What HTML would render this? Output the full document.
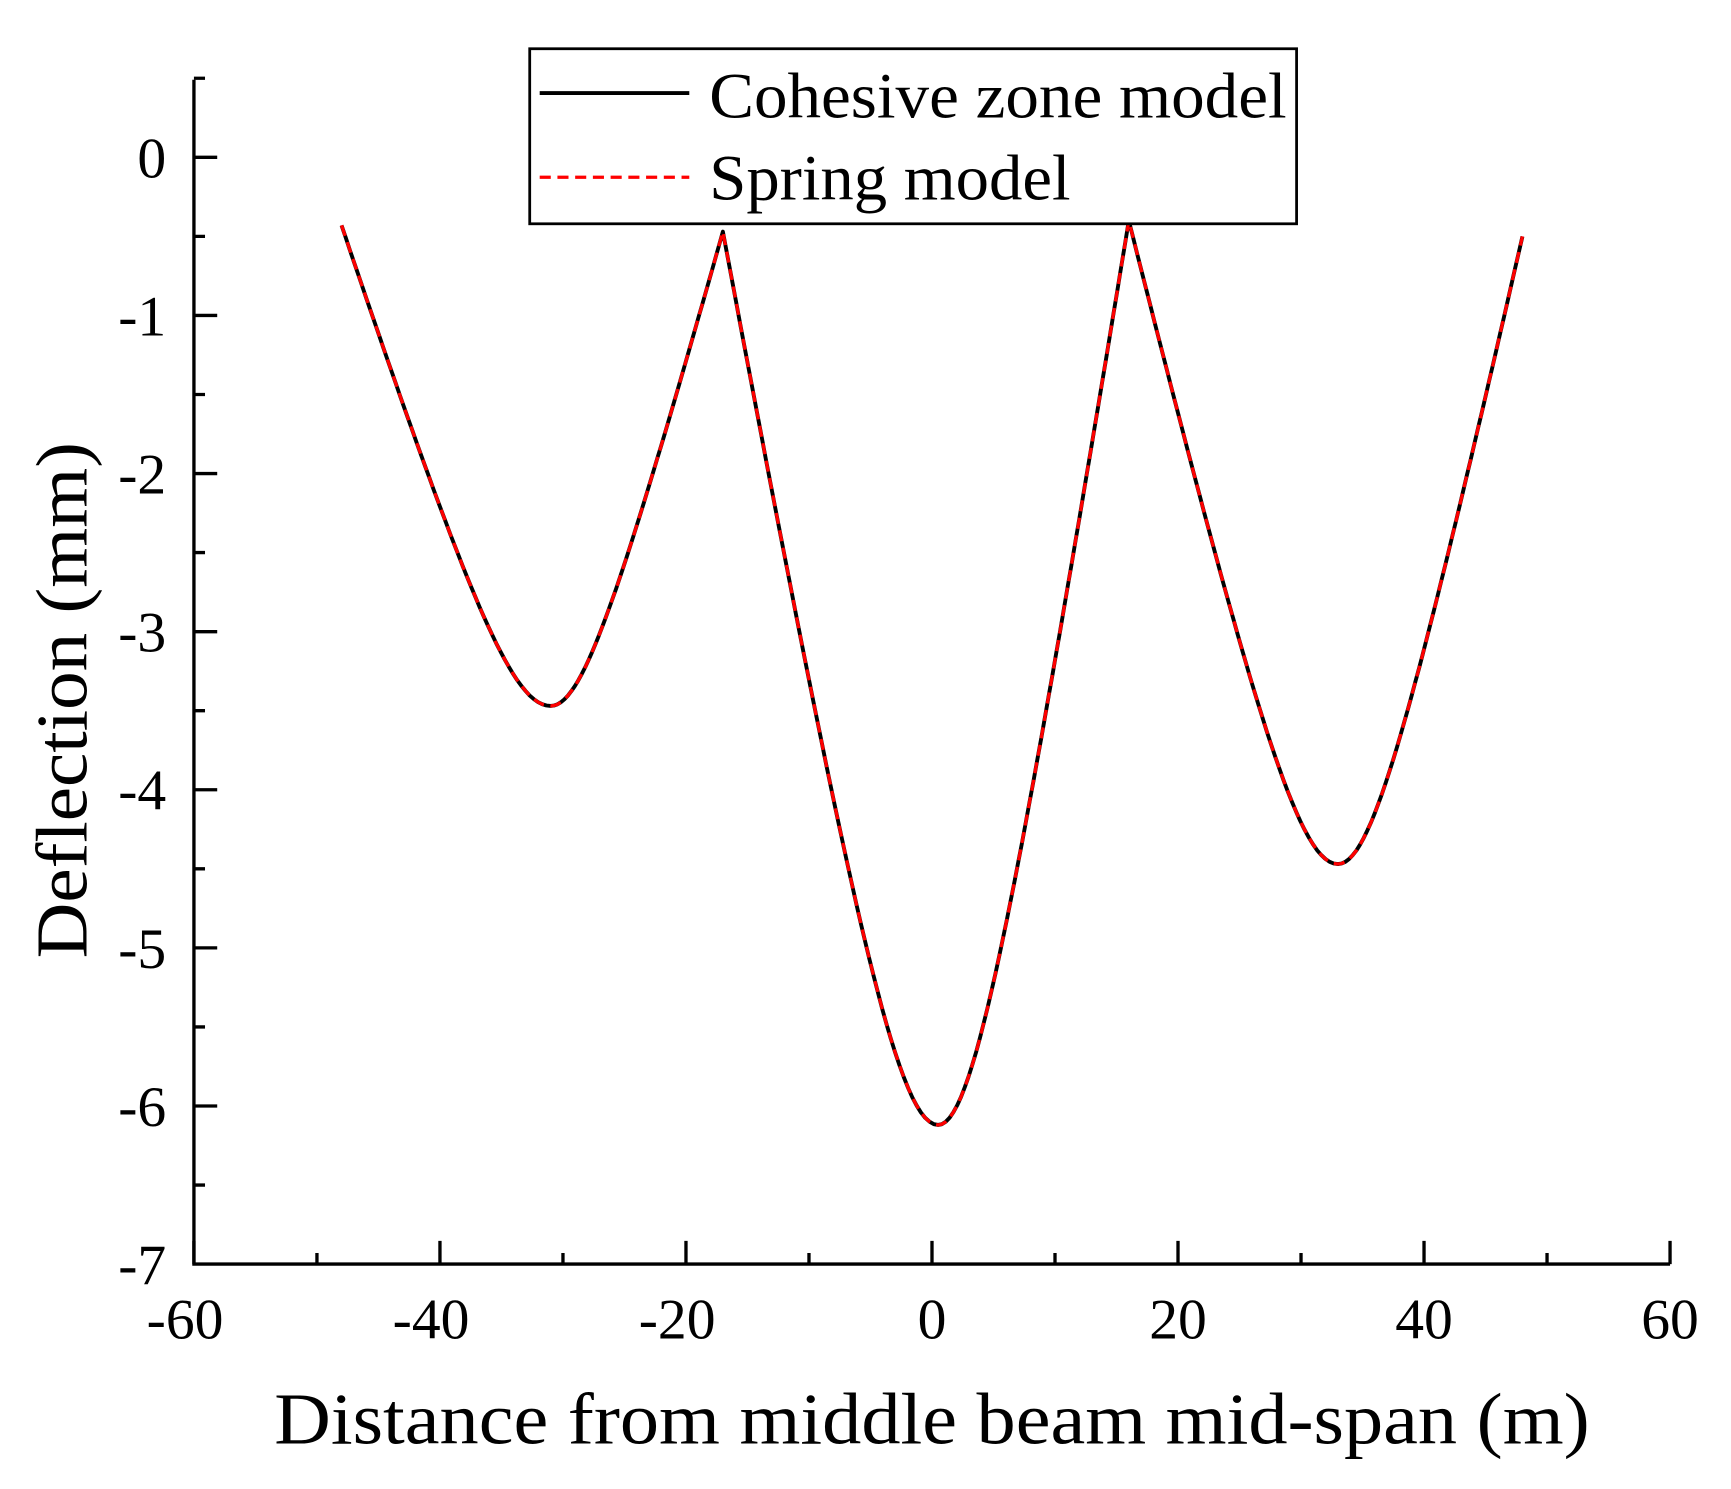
<!DOCTYPE html>
<html><head><meta charset="utf-8"><style>html,body{margin:0;padding:0;background:#fff;overflow:hidden}svg{display:block}</style></head>
<body>
<svg id="s" width="1731" height="1489" viewBox="0 0 1562 1344" preserveAspectRatio="none" xmlns="http://www.w3.org/2000/svg" font-family="Liberation Serif, serif">
<rect width="1562" height="1344" fill="#fff"/>
<g stroke="#000" stroke-width="3" fill="none">
<path d="M175 72 V1141 H1507"/>
<path id="ticks" d=""/>
</g>
<g font-size="52" text-anchor="end" fill="#000" id="yl"></g>
<g font-size="52" text-anchor="middle" fill="#000" id="xl"></g>
<text x="841" y="1303" font-size="66" text-anchor="middle" textLength="1187" lengthAdjust="spacingAndGlyphs">Distance from middle beam mid-span (m)</text>
<text transform="translate(78,632) rotate(-90)" font-size="66" text-anchor="middle" textLength="466" lengthAdjust="spacingAndGlyphs">Deflection (mm)</text>
<path id="c1" fill="none" stroke="#000" stroke-width="3.5" stroke-linejoin="round"/>
<path id="c2" fill="none" stroke="#f00" stroke-width="3" stroke-dasharray="10 6" stroke-linejoin="round"/>
<rect x="478" y="44" width="692" height="158" fill="#fff" stroke="#000" stroke-width="2.5"/>
<line x1="487" y1="84" x2="622" y2="84" stroke="#000" stroke-width="3.5"/>
<line x1="487" y1="160" x2="622" y2="160" stroke="#f00" stroke-width="3" stroke-dasharray="10 6"/>
<text x="640" y="106" font-size="58" textLength="521" lengthAdjust="spacingAndGlyphs">Cohesive zone model</text>
<text x="640" y="180" font-size="58" textLength="326" lengthAdjust="spacingAndGlyphs">Spring model</text>
</svg>
<script>
var X=function(v){return 175+(v+60)*1332/120},Y=function(v){return 142-v*999/7};
var t="";
for(var i=0;i<=14;i++){var v=0.5-i*0.5;var y=Y(v);var L=(i%2==1)?21:10;t+="M175 "+y+" h"+L+" ";}
for(var i=0;i<=12;i++){var v=-60+i*10;var x=X(v);var L=(i%2==0)?21:10;t+="M"+x+" 1141 v-"+L+" ";}
document.getElementById("ticks").setAttribute("d",t);
var yl=document.getElementById("yl");var h="";
for(var k=0;k>=-7;k--){h+='<text x="150" y="'+(Y(k)+18)+'">'+(k==0?"0":"-"+(-k))+'</text>';}
yl.innerHTML=h;
var xl=document.getElementById("xl");h="";
for(var k=-60;k<=60;k+=20){h+='<text x="'+(X(k)-(k<0?8:0))+'" y="1208">'+k+'</text>';}
xl.innerHTML=h;
var pts=[[-48,-0.43],[-31,-3.47],[-17,-0.47],[0.5,-6.12],[16,-0.4],[33,-4.47],[48,-0.5]];
var c=0.3,den=Math.sqrt(1+c*c)-c;
var P=[];
for(var s=0;s<pts.length-1;s++){
 var a=pts[s],b=pts[s+1];var N=50;
 for(var j=(s==0?0:1);j<=N;j++){
  var x=a[0]+(b[0]-a[0])*j/N;var pk,mn;
  if(a[1]>b[1]){pk=a;mn=b}else{pk=b;mn=a}
  var tt=Math.abs((x-mn[0])/(pk[0]-mn[0]));
  var f=(Math.sqrt(tt*tt+c*c)-c)/den;
  var y=mn[1]+(pk[1]-mn[1])*f;
  P.push(X(x).toFixed(1)+","+Y(y).toFixed(1));
 }
}
var d="M"+P.join(" L");
document.getElementById("c1").setAttribute("d",d);
document.getElementById("c2").setAttribute("d",d);
</script>
</body></html>
